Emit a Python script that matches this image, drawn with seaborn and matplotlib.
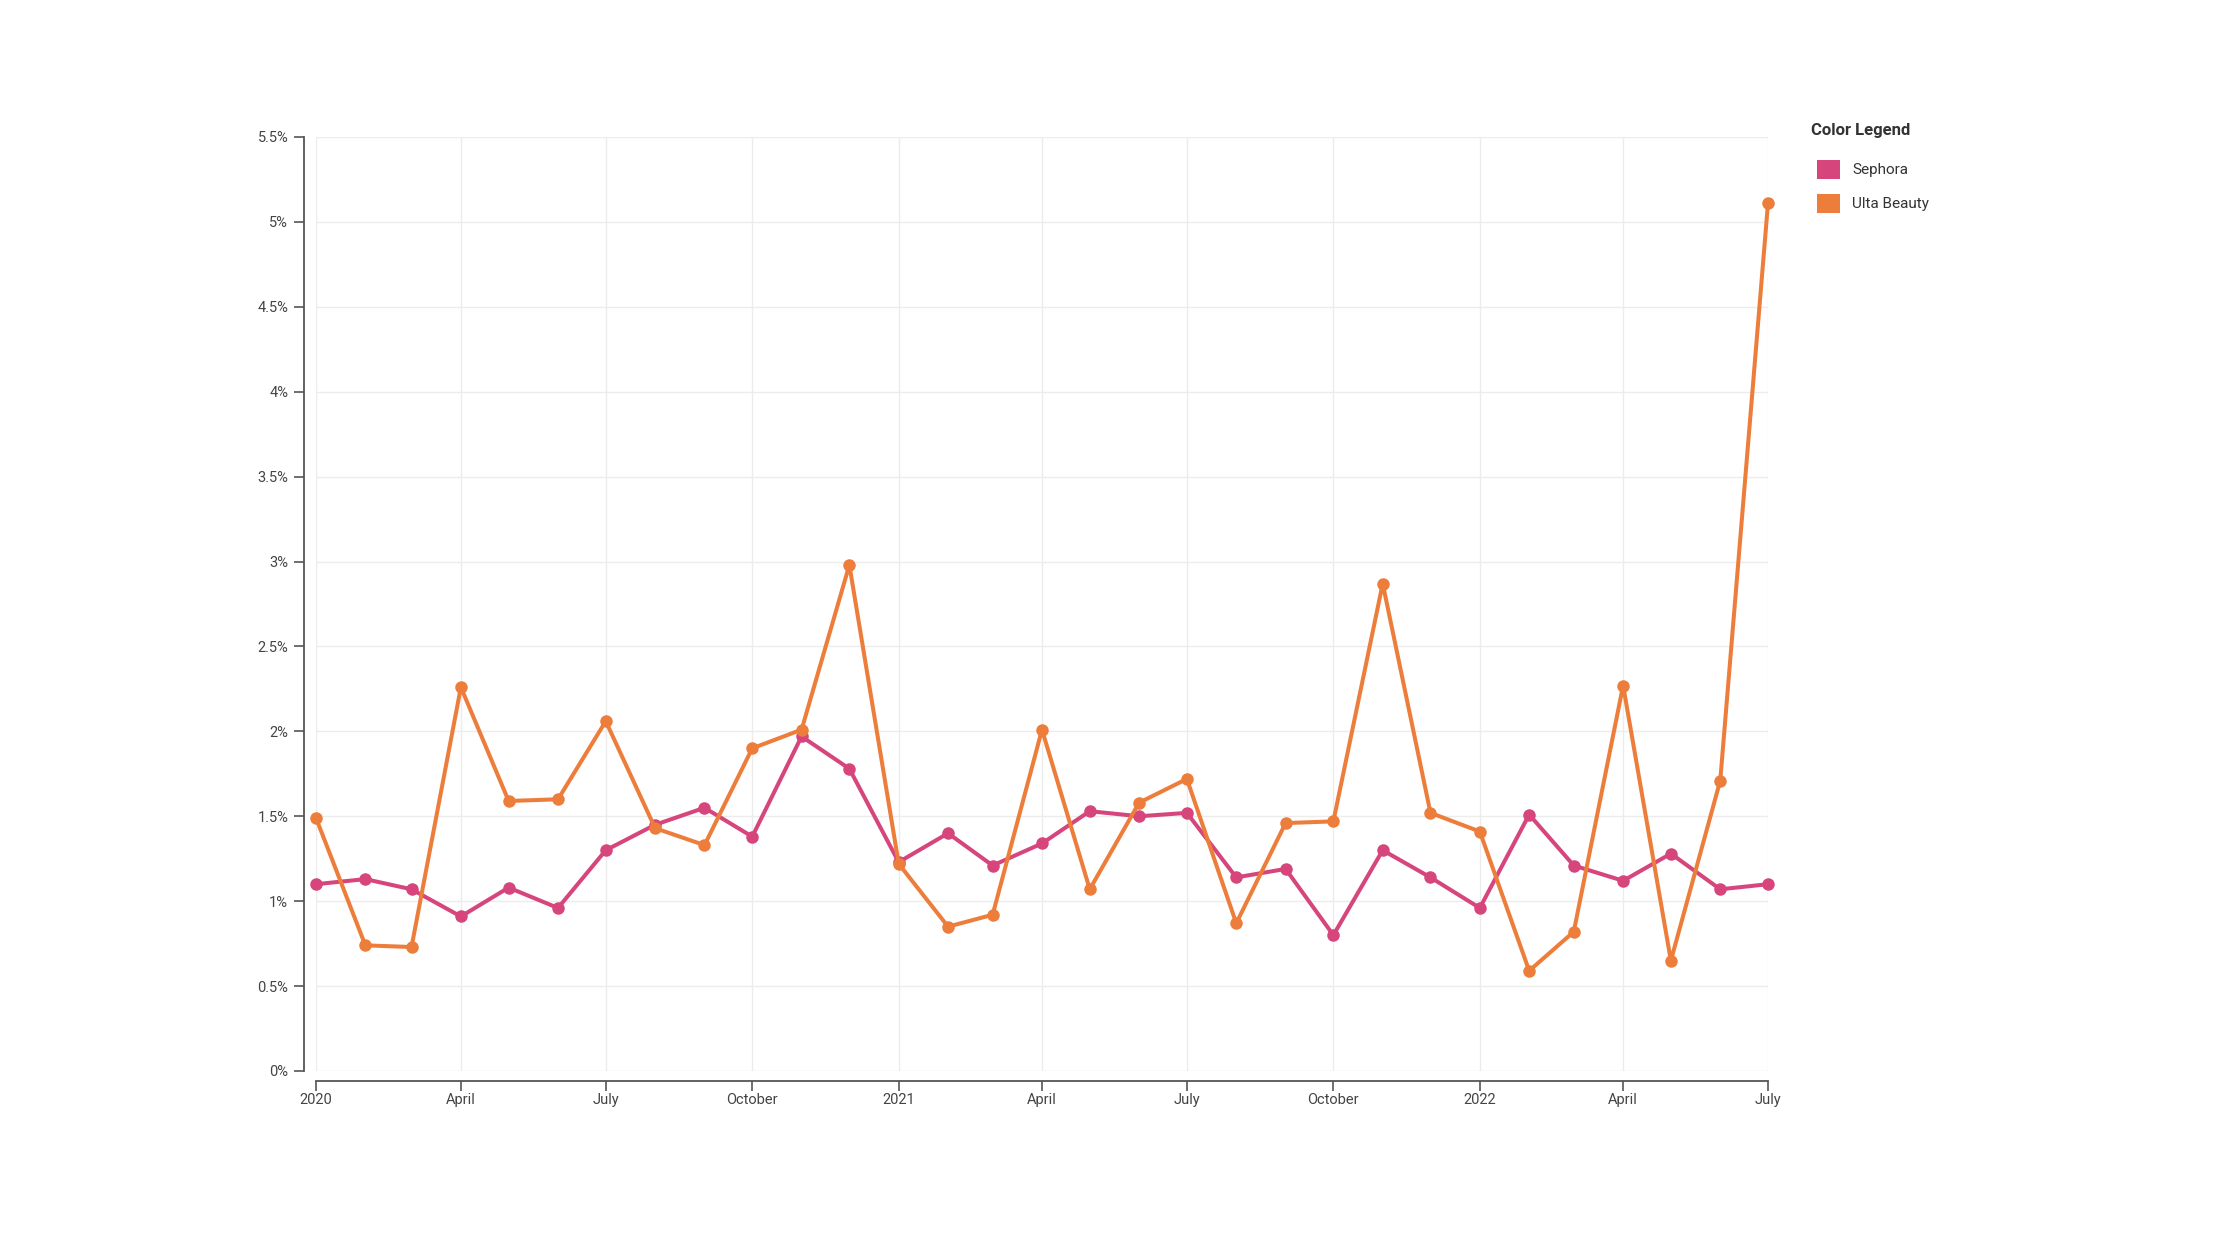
import pandas as pd
import seaborn as sns
from matplotlib import pyplot as plt
from matplotlib.patches import Patch
from matplotlib.ticker import FuncFormatter

sns.set_theme(style='white')
plt.rcParams['font.family'] = ['Roboto', 'DejaVu Sans']

# monthly values, Jan 2020 - Jul 2022 (percent)
months = pd.date_range('2020-01-01', '2022-07-01', freq='MS')
sephora = [1.10, 1.13, 1.07, 0.91, 1.08, 0.96, 1.30, 1.45, 1.55, 1.38, 1.97, 1.78,
           1.23, 1.40, 1.21, 1.34, 1.53, 1.50, 1.52, 1.14, 1.19, 0.80, 1.30, 1.14,
           0.96, 1.51, 1.21, 1.12, 1.28, 1.07, 1.10]
ulta = [1.49, 0.74, 0.73, 2.26, 1.59, 1.60, 2.06, 1.43, 1.33, 1.90, 2.01, 2.98,
        1.22, 0.85, 0.92, 2.01, 1.07, 1.58, 1.72, 0.87, 1.46, 1.47, 2.87, 1.52,
        1.41, 0.59, 0.82, 2.27, 0.65, 1.71, 5.11]
brands = ['Sephora', 'Ulta Beauty']
colors = ['#d6457b', '#ed7d3b']

tick_dates = pd.date_range('2020-01-01', '2022-07-01', freq='3MS')
tick_labels = ['2020', 'April', 'July', 'October', '2021', 'April', 'July', 'October',
               '2022', 'April', 'July']

df = pd.DataFrame({
    'date': list(months) * 2,
    'value': sephora + ulta,
    'brand': ['Sephora'] * len(months) + ['Ulta Beauty'] * len(months),
})

fig = plt.figure(figsize=(22.4, 12.6), dpi=100)
ax = fig.add_axes([316 / 2240, 1 - 1071 / 1260, 1452 / 2240, 934 / 1260])

sns.lineplot(data=df, x='date', y='value', hue='brand', hue_order=brands,
             palette=colors, marker='o', markersize=9, markeredgewidth=0,
             linewidth=2.9, legend=False, ax=ax)
for ln in ax.lines:
    ln.set_clip_on(False)

ax.set_xlim(months[0], months[-1])
ax.set_ylim(0, 5.5)
ax.set_yticks([i * 0.5 for i in range(12)])
ax.yaxis.set_major_formatter(FuncFormatter(lambda v, p: f'{v:g}%'))
ax.set_xticks(tick_dates)
ax.set_xticklabels(tick_labels)
ax.set_xlabel('')
ax.set_ylabel('')

ax.grid(True, color='#ececec', linewidth=1)
ax.set_axisbelow(True)
for s in ['top', 'right']:
    ax.spines[s].set_visible(False)
ax.spines['left'].set_position(('outward', 9))
ax.spines['bottom'].set_position(('outward', 7))
for s in ['left', 'bottom']:
    ax.spines[s].set_color('#555555')
    ax.spines[s].set_linewidth(1.3)
ax.tick_params(axis='both', length=7, width=1.2, color='#555555',
               labelsize=10.5, labelcolor='#444444', pad=4)
ax.tick_params(axis='x', bottom=True, pad=2)
ax.tick_params(axis='y', left=True)

# legend: title as separate text, entries as square patches
fig.text(1811 / 2240, 1 - 130 / 1260, 'Color Legend', fontsize=12, fontweight='bold',
         color='#333333', va='center', ha='left')
handles = [Patch(facecolor=c, edgecolor='none', label=b) for b, c in zip(brands, colors)]
leg = fig.legend(handles=handles, loc='upper left',
                 bbox_to_anchor=(1817 / 2240, 1 - 160 / 1260), frameon=False,
                 fontsize=11, handlelength=1.5, handleheight=1.5, borderpad=0,
                 borderaxespad=0, handletextpad=0.8, labelspacing=1.0)
for t in leg.get_texts():
    t.set_color('#333333')

fig.savefig('out.png', dpi=100)
